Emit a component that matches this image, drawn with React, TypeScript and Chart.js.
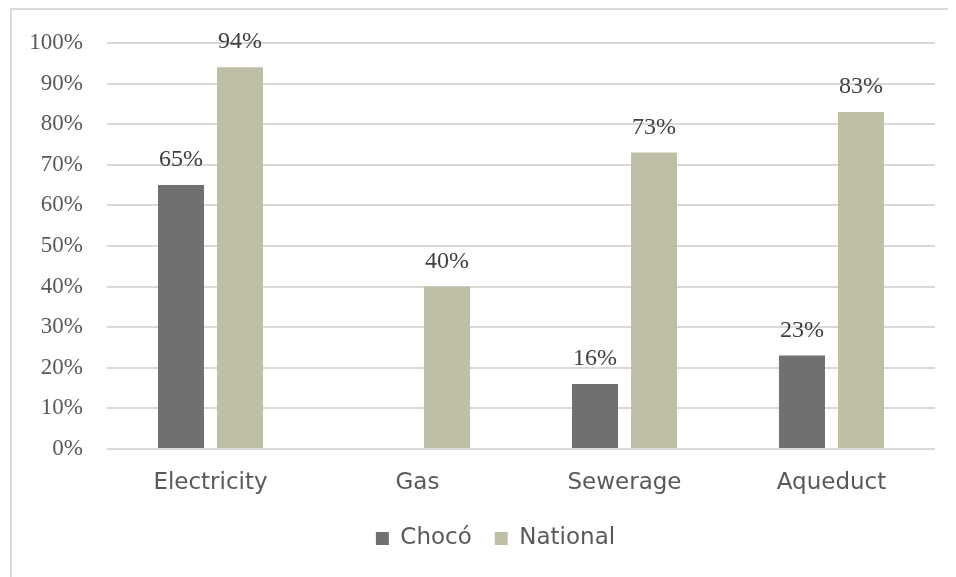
import React, { useEffect, useRef } from "react";
import { Chart, registerables } from "chart.js";

Chart.register(...registerables);

const categories = ["Electricity", "Gas", "Sewerage", "Aqueduct"];
const chocoValues: (number | null)[] = [65, null, 16, 23];
const nationalValues: number[] = [94, 40, 73, 83];
const seriesNames = ["Chocó", "National"];

const dataLabelPlugin = {
  id: "dataLabels",
  afterDatasetsDraw(chart: any) {
    const ctx = chart.ctx;
    ctx.save();
    ctx.font = "24px 'Liberation Serif', 'Times New Roman', serif";
    ctx.fillStyle = "#404040";
    ctx.textAlign = "center";
    ctx.textBaseline = "alphabetic";
    chart.data.datasets.forEach((ds: any, di: number) => {
      const meta = chart.getDatasetMeta(di);
      meta.data.forEach((bar: any, i: number) => {
        const v = ds.data[i];
        if (v === null || v === undefined) return;
        ctx.fillText(v + "%", bar.x, bar.y - 19);
      });
    });
    ctx.restore();
  },
};

export default function App() {
  const ref = useRef<HTMLCanvasElement | null>(null);
  useEffect(() => {
    document.body.style.overflow = "hidden";
    const chart = new Chart(ref.current as HTMLCanvasElement, {
      type: "bar",
      data: {
        labels: categories,
        datasets: [
          {
            label: seriesNames[0],
            data: chocoValues,
            backgroundColor: "#707070",
            categoryPercentage: 0.57,
            barPercentage: 0.78,
          },
          {
            label: seriesNames[1],
            data: nationalValues,
            backgroundColor: "#bfbfa5",
            categoryPercentage: 0.57,
            barPercentage: 0.78,
          },
        ],
      },
      options: {
        animation: false,
        responsive: false,
        layout: { padding: { left: 0, right: 0, top: 33, bottom: 19 } },
        scales: {
          x: {
            grid: { display: false },
            border: { display: false },
            ticks: {
              color: "#595959",
              font: { family: "'DejaVu Sans', sans-serif", size: 23 },
              padding: 12,
            },
            afterFit(scale: any) {
              scale.height = 55;
              scale.paddingLeft = 0;
              scale.paddingRight = 44;
            },
          },
          y: {
            min: 0,
            max: 100,
            grid: { color: "#d9d9d9", lineWidth: 2, drawTicks: false },
            border: { display: false },
            ticks: {
              stepSize: 10,
              color: "#595959",
              padding: 24,
              font: { family: "'Liberation Serif', 'Times New Roman', serif", size: 23 },
              callback: (v: any) => v + "%",
            },
            afterFit(scale: any) {
              scale.width = 95;
              scale.paddingTop = 0;
              scale.paddingBottom = 0;
            },
          },
        },
        plugins: {
          legend: {
            position: "bottom",
            labels: {
              boxWidth: 13,
              boxHeight: 13,
              padding: 23,
              color: "#595959",
              font: { family: "'DejaVu Sans', sans-serif", size: 23 },
            },
          },
          tooltip: { enabled: false },
        },
      },
      plugins: [dataLabelPlugin],
    } as any);
    return () => chart.destroy();
  }, []);
  return (
    <div
      style={{
        marginLeft: 2,
        width: 967,
        height: 569,
        borderTop: "2px solid #d9d9d9",
        borderLeft: "2px solid #d9d9d9",
        overflow: "hidden",
      }}
    >
      <canvas ref={ref} width={967} height={569} style={{ display: "block" }} />
    </div>
  );
}
